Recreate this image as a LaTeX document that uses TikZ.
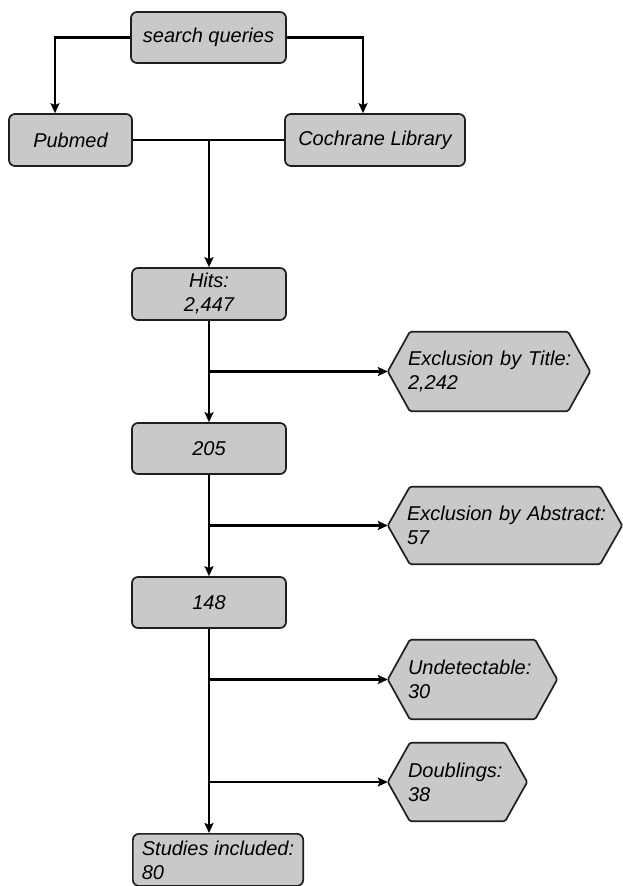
\documentclass[tikz,border=0pt]{standalone}
\usepackage{fontspec}
\setmainfont{Liberation Sans}
\usetikzlibrary{arrows.meta,backgrounds}
\definecolor{boxfill}{gray}{0.79}
\definecolor{edge}{gray}{0.12}
\begin{document}
\begin{tikzpicture}[x=1pt,y=-1pt,
  font=\fontsize{20}{24}\selectfont\itshape,
  rbox/.style={draw=edge,line width=1.7pt,fill=boxfill,rounded corners=6pt,align=center,inner sep=0pt,minimum height=52pt},
  hexnode/.style={inner sep=0pt,align=left,minimum height=79pt},
  hexdraw/.style={draw=edge,line width=1.7pt,fill=boxfill,rounded corners=1.5pt},
  conn/.style={line width=2.6pt,-{Stealth[length=10pt,width=9pt,inset=2pt]}},
  plainline/.style={line width=2.6pt}]
\useasboundingbox (0,0) rectangle (623,886);

\node[rbox,minimum width=155pt,minimum height=51pt] (sq) at (208.5,37.5) {search queries};
\node[rbox,minimum width=123pt] (pm) at (70.5,140) {Pubmed};
\node[rbox,minimum width=180pt] (cl) at (375,140) {Cochrane Library};
\node[rbox,minimum width=154pt] (hits) at (209,294) {Hits:\\2,447};
\node[rbox,minimum width=154pt,minimum height=51pt] (s205) at (209,448.5) {205};
\node[rbox,minimum width=154pt,minimum height=51pt] (s148) at (209,602.5) {148};
\node[rbox,align=left,inner xsep=9pt,anchor=north west] (st) at (132,833) {Studies included:\\80};

\node[hexnode,minimum width=202pt,text width=162pt] (ex1) at (489,371.5) {\mbox{Exclusion by Title:}\\2,242};
\node[hexnode,minimum width=234pt,text width=196pt,minimum height=77pt] (ex2) at (505,525.5) {\mbox{Exclusion by Abstract:}\\57};
\node[hexnode,minimum width=169pt,text width=129pt] (ex3) at (472.5,679.5) {\mbox{Undetectable:}\\30};
\node[hexnode,minimum width=139pt,text width=99pt,minimum height=78pt] (ex4) at (457.5,782) {\mbox{Doublings:}\\38};

\begin{pgfonlayer}{background}
\foreach \h in {ex1,ex2,ex3,ex4}{
  \draw[hexdraw] (\h.west) -- ([xshift=22pt]\h.north west) -- ([xshift=-22pt]\h.north east)
    -- (\h.east) -- ([xshift=-22pt]\h.south east) -- ([xshift=22pt]\h.south west) -- cycle;
}
\end{pgfonlayer}

\draw[conn] (sq.west) -| ([xshift=-15.5pt]pm.north);
\draw[conn] (sq.east) -| ([xshift=-12pt]cl.north);
\draw[plainline] (pm.east) -- (cl.west);
\coordinate (j) at (hits.north |- pm.east);
\draw[conn] (j) -- (hits.north);

\draw[conn] (hits.south) -- (s205.north);
\draw[conn] (hits.south |- ex1.west) -- (ex1.west);
\draw[conn] (s205.south) -- (s148.north);
\draw[conn] (s205.south |- ex2.west) -- (ex2.west);
\draw[conn] (s148.south) -- (s148.south |- st.north);
\draw[conn] (s148.south |- ex3.west) -- (ex3.west);
\draw[conn] (s148.south |- ex4.west) -- (ex4.west);
\end{tikzpicture}
\end{document}
